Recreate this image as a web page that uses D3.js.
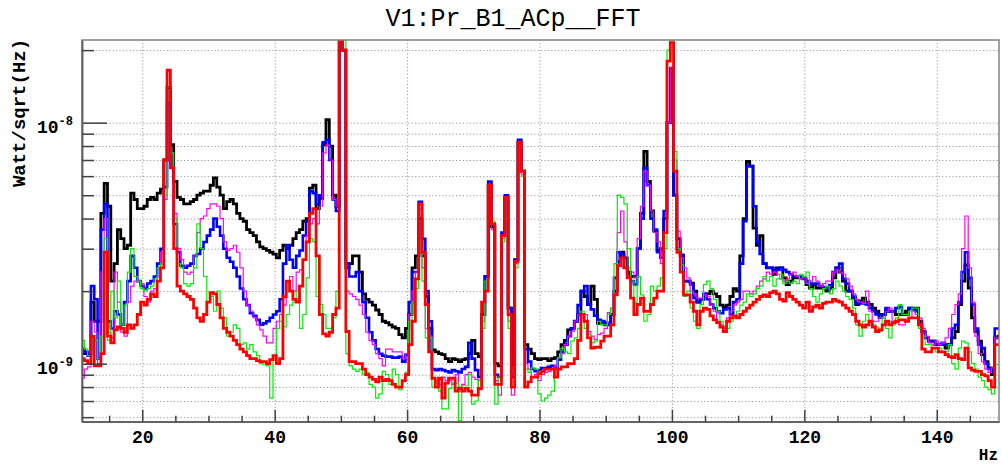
<!DOCTYPE html>
<html><head><meta charset="utf-8">
<script src="https://cdn.jsdelivr.net/npm/d3@7"></script>
<style>body{margin:0;background:#fff;} svg{display:block;}</style>
</head><body><svg id="c" width="1002" height="466"></svg>
<script>
// ---- data (values in units of 1e-9 Watt/sqrt(Hz)); bins of 0.5 Hz starting at 11 Hz ----
const UNIT = 1e-9;
const binStart = 11, binWidth = 0.5;
const black = [1.15,1.1,1.1,1.8,1.5,1.5,4.2,5.6,4.5,2.2, 2.6,3.6,3.3,3.0,3.1,5.1,4.8,4.4,4.4,4.5, 4.8,4.9,4.8,5.1,5.3,7.0,14,8.1,5.7,4.9, 4.8,4.6,4.6,4.7,4.8,5.0,5.1,5.2,5.2,5.5, 5.9,5.4,5.0,4.4,4.7,4.8,4.6,4.2,4.0,
 3.9,3.6,3.5,3.4,3.2,3.05,3.0,2.95,2.9,2.85, 2.75,2.95,3.1,3.0,3.1,3.3,3.5,3.6,3.9,4.0, 5.35,5.5,4.4,4.85,8.1,10.3,8.0,5.0,4.5,28, 20,2.5,2.6,2.8,2.8,2.4,1.95,1.85,1.8,1.75, 1.67,1.6,1.5,1.48,1.45,1.42,1.4,
 1.32,1.28,1.4,1.6,2.5,2.8,4.0,2.8,1.9,1.4, 1.14,1.12,1.1,1.09,1.05,1.02,1.05,1.04,1.02,1.04, 1.05,1.1,1.25,1.1,1.07,1.6,2.3,5.5,3.7,1.0, 0.98,3.4,4.9,1.7,0.99,2.7,8.3,6.3,1.2,1.15, 1.1,1.05,1.04,1.05,1.05,1.03,1.05,
 1.06,1.12,1.2,1.25,1.38,1.4,1.5,1.6,2.0,1.9, 1.76,2.1,1.85,1.47,1.5,1.45,1.45,1.6,2.0,2.65, 2.9,2.75,2.4,2.3,2.3,3.0,4.2,7.6,5.7,4.3, 3.55,2.95,3.0,4.0,10,16.8,5.0,3.3,2.8,2.2, 2.2,2.16,2.0,1.8,1.85,1.93,
 1.95,2.0,1.95,1.9,1.75,1.72,1.75,1.9,2.05,2.0, 2.8,4.0,6.9,6.6,3.65,3.1,3.4,2.6,2.5,2.5, 2.35,2.5,2.5,2.27,2.13,2.2,2.27,2.27,2.27,2.25, 2.13,2.06,2.13,2.06,2.06,2.06,2.0,2.06,2.27,2.5, 2.4,2.2,2.0,2.0,1.87,1.76,1.82,1.87,
 1.8,1.76,1.7,1.65,1.6,1.6,1.65,1.65,1.65,1.6, 1.6,1.6,1.65,1.7,1.7,1.7,1.5,1.36,1.28,1.24, 1.24,1.2,1.2,1.2,1.16,1.2,1.28,1.36,1.76,2.2, 2.57,2.06,1.55,1.36,1.24,1.09,1.02,0.96,0.9,1.28,1.3];
const blue = [1.15,1.12,1.08,2.1,1.85,1.05,3.6,4.6,1.5,1.4, 1.65,1.6,1.45,1.8,2.2,2.8,2.5,2.2,2.1,2.05, 2.15,2.2,2.3,2.6,3.0,5.4,12,6.5,3.8,2.9, 2.55,2.5,2.55,2.6,2.8,2.85,3.0,3.2,3.4,3.6, 4.0,3.7,3.4,3.0,2.75,2.65,2.5,2.3,2.05,
 1.85,1.75,1.62,1.58,1.52,1.45,1.47,1.5,1.55,1.6, 1.65,1.85,2.6,3.1,2.7,2.5,2.8,2.95,3.4,3.9, 5.2,5.1,4.6,5.0,8.3,8.5,7.0,4.8,4.3,28, 20,2.6,2.3,2.3,2.4,2.0,1.8,1.55,1.35,1.25, 1.15,1.1,1.08,1.07,1.07,1.06,1.06,
 1.07,1.02,1.09,1.8,2.4,2.4,4.7,3.3,2.0,1.5, 0.95,0.94,0.95,0.94,0.93,0.92,0.94,0.93,0.92,0.95, 0.97,1.22,1.05,0.94,0.88,1.6,2.3,5.7,3.8,0.9, 0.88,3.5,5.0,1.7,0.88,2.7,8.5,6.3,1.15,1.02, 0.95,0.93,0.94,0.96,0.96,0.97,0.98,
 0.96,1.04,1.12,1.2,1.3,1.4,1.5,1.75,2.0,2.1, 1.76,1.68,1.58,1.52,1.5,1.48,1.45,1.6,2.27,2.9, 2.85,2.5,2.35,2.2,2.13,3.0,4.0,6.5,5.5,4.0, 3.6,2.9,2.75,4.3,10,16,5.0,3.0,2.83,2.2, 2.2,2.13,1.87,1.8,1.85,1.95,
 1.85,1.76,1.7,1.65,1.62,1.68,1.7,1.6,1.8,1.85, 2.6,3.9,6.6,6.6,4.5,3.2,2.85,2.6,2.5,2.5, 2.45,2.45,2.5,2.45,2.4,2.35,2.3,2.3,2.3,2.25, 2.2,2.15,2.15,2.15,2.1,2.08,2.05,2.12,2.4,2.5, 2.6,2.25,2.15,2.0,1.9,1.78,1.78,1.78,
 1.76,1.7,1.65,1.6,1.55,1.6,1.7,1.65,1.65,1.7, 1.72,1.6,1.6,1.7,1.68,1.65,1.45,1.35,1.28,1.24, 1.24,1.2,1.2,1.22,1.2,1.2,1.4,1.45,1.8,2.4, 2.9,2.27,1.76,1.4,1.2,1.16,1.0,0.95,0.93,1.4,1.4];
const magenta = [0.87,0.95,0.97,1.5,1.35,1.0,2.4,4.0,1.35,1.28, 2.4,1.8,1.35,1.3,1.8,2.1,2.2,2.2,2.15,1.9, 1.8,2.0,2.05,2.3,2.9,4.8,12,6.5,4.2,3.0, 2.7,2.4,2.35,2.4,2.8,3.5,4.0,4.1,4.4,4.6, 4.6,4.5,4.0,3.2,2.95,3.0,3.1,2.9,2.5,
 2.0,1.75,1.65,1.55,1.45,1.38,1.3,1.22,1.22,1.4, 1.5,1.6,1.75,2.2,2.3,2.0,2.4,2.45,2.7,3.4, 3.8,4.0,3.8,4.5,7.5,8.1,7.0,4.8,4.5,28, 20,2.0,1.95,1.9,1.85,1.75,1.6,1.35,1.25,1.2, 1.1,1.05,0.98,1.15,1.15,1.12,1.12,
 1.12,1.05,1.1,1.6,2.0,2.4,4.4,2.5,1.4,1.3, 0.87,0.85,0.82,0.88,0.85,0.85,0.82,0.9,0.8,0.82, 0.9,0.92,0.88,0.86,0.78,1.5,2.0,5.4,3.6,0.85, 0.74,3.3,4.8,1.5,0.74,2.6,8.1,6.1,1.0,0.95, 0.88,0.9,0.85,0.9,0.92,0.93,0.95,
 0.98,1.06,1.1,1.2,1.3,1.36,1.5,1.6,1.55,1.6, 1.36,1.3,1.26,1.32,1.34,1.4,1.63,1.7,2.3,3.5, 4.3,3.2,2.5,2.4,2.27,3.3,4.5,6.3,5.5,4.3, 3.5,3.2,2.6,3.5,10,17,7.0,3.55,2.75,2.5, 2.27,2.0,1.95,1.87,1.87,1.93,
 1.9,1.75,1.65,1.5,1.45,1.4,1.55,1.65,1.75,1.8, 1.85,2.0,2.0,1.95,2.0,2.1,2.2,2.25,2.4,2.35, 2.4,2.35,2.25,2.2,2.25,2.35,2.4,2.3,2.25,2.3, 2.15,2.2,2.3,2.2,2.1,2.15,2.2,2.2,2.4,2.45, 2.4,2.35,2.25,2.1,1.95,1.85,1.8,1.78,
 2.0,1.65,1.5,1.5,1.55,1.55,1.65,1.7,1.5,1.5, 1.45,1.45,1.5,1.55,1.65,1.6,1.55,1.4,1.3,1.22, 1.2,1.24,1.2,1.22,1.28,1.4,1.6,1.76,1.95,3.0, 4.1,2.5,1.8,1.3,1.1,1.02,0.95,0.92,0.96,1.28,1.28];
const green = [1.25,1.15,1.08,1.28,1.25,1.05,1.3,3.3,1.25,2.0, 1.55,2.2,1.45,1.75,2.4,3.0,2.3,2.2,2.05,2.0, 2.05,2.1,2.25,2.5,2.6,5.0,14,7.5,4.0,2.6, 2.5,2.15,2.1,2.15,2.5,3.8,3.0,2.3,1.8,1.9, 1.65,2.0,1.7,1.55,1.3,1.35,1.45,1.4,1.2,
 1.22,1.15,1.2,1.12,1.08,1.0,0.99,0.98,0.72,1.05, 1.4,1.5,1.42,1.6,1.75,1.8,2.0,1.4,1.6,2.27, 3.3,3.2,1.9,1.76,1.6,1.4,1.4,1.55,2.0,28, 22,1.1,0.98,0.95,0.93,0.95,0.9,0.92,0.82,0.8, 0.72,0.75,0.93,0.9,0.82,0.95,0.9,
 0.78,0.85,0.92,1.5,1.8,2.05,3.1,2.2,1.28,1.28, 0.8,0.83,0.77,0.65,0.65,0.79,0.83,0.83,0.58,0.81, 0.81,0.9,0.68,0.7,0.85,1.4,2.2,5.0,3.9,0.68, 0.88,3.2,4.0,1.4,0.8,2.5,7.5,6.0,0.95,0.92, 0.96,0.95,0.75,0.7,0.72,0.74,0.77,
 0.95,1.06,1.16,1.12,1.1,1.24,1.28,1.4,1.65,1.4, 1.32,1.22,1.24,1.5,1.45,1.45,1.6,1.7,2.6,5.0, 4.9,4.6,3.0,2.2,1.8,2.3,1.93,1.5,1.6,2.1, 2.0,2.1,2.27,3.0,20,24,7.6,3.0,2.57,1.9, 2.0,1.7,1.5,1.4,1.76,2.13,
 2.2,2.05,1.85,1.65,1.5,1.42,1.4,1.5,1.55,1.65, 1.75,1.8,1.95,1.9,1.95,2.05,2.1,2.3,2.2,2.3, 2.1,2.25,2.35,2.15,2.2,2.15,2.2,2.15,2.35,2.3, 2.4,2.05,1.9,1.8,1.95,2.05,2.1,1.95,2.05,2.2, 2.1,2.0,1.9,1.85,1.7,1.45,1.3,1.5,
 1.6,1.5,1.45,1.42,1.36,1.55,1.4,1.28,1.45,1.55, 1.76,1.6,1.6,1.65,1.7,1.7,1.4,1.3,1.2,1.2, 1.16,1.12,1.16,1.12,1.12,1.2,1.0,0.95,1.16,1.24, 1.22,1.12,1.0,0.95,0.88,0.85,0.8,0.78,0.75,0.99,0.99];
const red = [1.05,1.03,1.0,1.3,0.98,0.98,1.1,2.9,1.3,1.22, 1.38,1.42,1.4,1.35,1.45,1.4,1.45,1.6,1.8,1.75, 1.85,1.95,1.9,2.2,2.5,7.0,16.5,6.5,3.0,2.1, 2.0,1.95,1.9,1.85,1.7,1.55,1.5,1.6,1.8,1.97, 1.95,1.76,1.55,1.4,1.35,1.3,1.25,1.2,1.15,
 1.12,1.08,1.05,1.05,1.03,1.02,1.02,1.0,1.04,1.08, 1.0,1.05,1.9,2.2,2.0,1.85,1.8,2.1,2.7,3.2, 4.2,4.4,2.8,1.6,1.33,1.3,1.35,1.6,1.7,28, 20,1.36,1.02,1.02,1.0,1.0,0.95,0.9,0.88,0.86, 0.84,0.88,0.85,0.86,0.85,0.82,0.8,
 0.8,0.85,0.9,1.2,1.5,2.25,4.6,2.9,1.76,1.12, 0.87,0.8,0.87,0.72,0.83,0.87,0.87,0.77,0.79,0.77, 0.79,0.77,0.74,0.74,0.79,1.8,2.0,5.5,3.8,0.82, 0.82,3.4,4.9,1.6,0.8,2.65,8.3,6.3,0.8,0.84, 0.88,0.88,0.91,0.93,0.95,0.95,0.95,
 0.88,0.95,0.97,0.97,1.0,1.0,1.05,1.25,1.6,1.5, 1.28,1.16,1.17,1.17,1.24,1.3,1.3,1.45,1.93,2.55, 2.75,2.5,2.27,1.87,1.6,1.76,1.87,1.65,1.65,1.76, 1.87,2.0,2.0,3.5,18,21.5,6.3,2.9,2.4,1.93, 1.93,1.8,1.65,1.45,1.65,1.7,
 1.68,1.58,1.52,1.48,1.42,1.36,1.5,1.55,1.58,1.55, 1.6,1.65,1.7,1.75,1.8,1.85,1.9,1.93,1.9,1.97, 2.0,1.95,1.85,1.82,1.97,1.9,1.85,1.8,1.75,1.7, 1.8,1.65,1.72,1.75,1.7,1.78,1.8,1.8,1.85,1.82, 1.8,1.75,1.7,1.65,1.6,1.5,1.45,1.42,
 1.45,1.5,1.42,1.36,1.38,1.45,1.5,1.45,1.48,1.5, 1.52,1.52,1.5,1.55,1.55,1.55,1.45,1.15,1.12,1.12, 1.16,1.16,1.12,1.12,1.09,1.07,1.06,1.09,1.05,1.04, 1.16,0.96,0.94,0.93,0.93,0.9,0.89,0.85,0.8,1.2,1.2];

const xMajorTicks = [20, 40, 60, 80, 100, 120, 140];
const xTickLabels = ["20", "40", "60", "80", "100", "120", "140"];
const xMinorTicks = [15, 25, 30, 35, 45, 50, 55, 65, 70, 75, 85, 90, 95, 105, 110, 115, 125, 130, 135, 145];
const yMajorTicks = [1e-9, 1e-8];
const yTickBase = ["10", "10"];
const yTickExp = ["-9", "-8"];
const yMinorTicks = [6e-10, 7e-10, 8e-10, 9e-10, 2e-9, 3e-9, 4e-9, 5e-9, 6e-9, 7e-9, 8e-9, 9e-9, 2e-8];
const title = "V1:Pr_B1_ACp__FFT";
const yTitle = "Watt/sqrt(Hz)";
const xTitle = "Hz";

const series = [
  {name: "black", values: black, color: "#000000", width: 2.8},
  {name: "blue", values: blue, color: "#0000ff", width: 2.6},
  {name: "magenta", values: magenta, color: "#ff00ff", width: 1.2},
  {name: "green", values: green, color: "#00ee00", width: 1.2},
  {name: "red", values: red, color: "#ff0000", width: 2.8}
];

// ---- layout ----
const L = 82, R = 999, T = 40, B = 421.7;
const svg = d3.select("#c");
const x = d3.scaleLinear().domain([10.9, 149.4]).range([L, R]);
const y = d3.scaleLog().domain([5.745e-10, 2.203e-8]).range([B, T]).clamp(true);
const font = "'Liberation Mono', 'DejaVu Sans Mono', monospace";

svg.append("defs").append("clipPath").attr("id", "clip")
  .append("rect").attr("x", L).attr("y", T).attr("width", R - L).attr("height", B - T);

// grid
const gridX = svg.append("g").attr("transform", `translate(0,${B})`)
  .call(d3.axisBottom(x).tickValues(xMajorTicks).tickSize(-(B - T)).tickFormat(""));
const gridY = svg.append("g").attr("transform", `translate(${L},0)`)
  .call(d3.axisLeft(y).tickValues(yMajorTicks.concat(yMinorTicks)).tickSize(-(R - L)).tickFormat(""));
[gridX, gridY].forEach(g => {
  g.select(".domain").remove();
  g.selectAll("line").attr("stroke", "#9a9a9a").attr("stroke-width", 1).attr("stroke-dasharray", "1.2,2.2");
});

// data
const plot = svg.append("g").attr("clip-path", "url(#clip)");
const line = d3.line().x(d => x(d[0])).y(d => y(d[1] * UNIT));
series.forEach(s => {
  const pts = [];
  s.values.forEach((v, i) => {
    const c = binStart + i * binWidth;
    pts.push([c - binWidth / 2, v], [c + binWidth / 2, v]);
  });
  plot.append("path").datum(pts).attr("d", line)
    .attr("fill", "none").attr("stroke", s.color).attr("stroke-width", s.width)
    .attr("stroke-linejoin", "miter").attr("stroke-linecap", "butt");
});

// frame
svg.append("rect").attr("x", L).attr("y", T).attr("width", R - L).attr("height", B - T)
  .attr("fill", "none").attr("stroke", "#808080").attr("stroke-width", 1.5);

// x axis ticks
const xAxisMajor = svg.append("g").attr("transform", `translate(0,${B})`)
  .call(d3.axisBottom(x).tickValues(xMajorTicks).tickSize(-12).tickSizeOuter(0).tickPadding(9)
    .tickFormat((d, i) => xTickLabels[i]));
const xAxisMinor = svg.append("g").attr("transform", `translate(0,${B})`)
  .call(d3.axisBottom(x).tickValues(xMinorTicks).tickSize(-6).tickSizeOuter(0).tickFormat(""));
[xAxisMajor, xAxisMinor].forEach(g => {
  g.select(".domain").attr("stroke", "#606060").attr("stroke-width", 1.5);
  g.selectAll(".tick line").attr("stroke", "#404040").attr("stroke-width", 1.5);
});
xAxisMajor.selectAll("text").attr("font-family", font).attr("font-weight", "bold")
  .attr("font-size", 18).attr("fill", "#000");

// y axis ticks
const yAxisMajor = svg.append("g").attr("transform", `translate(${L},0)`)
  .call(d3.axisLeft(y).tickValues(yMajorTicks).tickSize(-25).tickSizeOuter(0).tickFormat(""));
const yAxisMinor = svg.append("g").attr("transform", `translate(${L},0)`)
  .call(d3.axisLeft(y).tickValues(yMinorTicks).tickSize(-12).tickSizeOuter(0).tickFormat(""));
[yAxisMajor, yAxisMinor].forEach(g => {
  g.select(".domain").attr("stroke", "#606060").attr("stroke-width", 1.5);
  g.selectAll(".tick line").attr("stroke", "#404040").attr("stroke-width", 1.5);
});
yMajorTicks.forEach((v, i) => {
  const t = svg.append("text").attr("font-family", font).attr("font-weight", "bold").attr("fill", "#000")
    .attr("x", 37).attr("y", y(v) + 10);
  t.append("tspan").attr("font-size", 18).text(yTickBase[i]);
  t.append("tspan").attr("font-size", 12).attr("dy", -8).text(yTickExp[i]);
});

// titles
svg.append("text").attr("x", 513).attr("y", 26).attr("text-anchor", "middle")
  .attr("font-family", font).attr("font-size", 25).attr("fill", "#000").text(title);
svg.append("text").attr("transform", "translate(25,113) rotate(-90)").attr("text-anchor", "middle")
  .attr("font-family", font).attr("font-weight", "bold").attr("font-size", 19).attr("fill", "#000").text(yTitle);
svg.append("text").attr("x", 998).attr("y", 460).attr("text-anchor", "end")
  .attr("font-family", font).attr("font-weight", "bold").attr("font-size", 16).attr("fill", "#000").text(xTitle);
</script></body></html>
